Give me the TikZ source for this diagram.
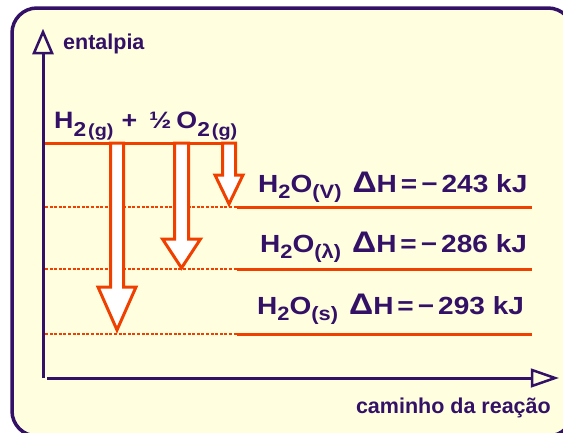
\documentclass[tikz,border=0pt]{standalone}
\usepackage{fontspec}
\setmainfont{Liberation Sans}
\newfontfamily\widefont{Liberation Sans}[FakeStretch=1.13]
\definecolor{pur}{RGB}{51,17,102}
\definecolor{org}{RGB}{240,64,0}
\definecolor{bg}{RGB}{255,255,224}
\newcommand\subA[1]{\raisebox{-0.37em}{\scalebox{0.85}{#1}}}
\newcommand\subG[1]{\raisebox{-0.37em}{\scalebox{0.74}{#1}}}
\newcommand\subB[1]{\raisebox{-0.27em}{\scalebox{0.78}{#1}}}
\newcommand\bigD{\scalebox{1.2}{Δ}}
\newcommand\blockarrow[5]{% cx, half shaft, half head, head base y, tip y
  \filldraw[org, fill=white, line width=3pt, line join=miter]
    (#1-#2,143) -- (#1-#2,#4) -- (#1-#3,#4) -- (#1,#5) -- (#1+#3,#4) -- (#1+#2,#4) -- (#1+#2,143) -- cycle;}
\begin{document}
\begin{tikzpicture}[x=1pt,y=-1pt,
  lbl/.style={text=pur, font=\widefont\bfseries\fontsize{24.8}{29}\selectfont, inner sep=0pt, anchor=base west},
  toplbl/.style={text=pur, font=\widefont\bfseries\fontsize{23.7}{28}\selectfont, inner sep=0pt, anchor=base west},
  axlbl/.style={text=pur, font=\bfseries\fontsize{21.5}{25}\selectfont, inner sep=0pt},
  axis/.style={pur, line width=3pt},
  level/.style={org, line width=3pt},
  guide/.style={org, line width=1.5pt, dash pattern=on 3pt off 1.6pt}]
\useasboundingbox (0,0) rectangle (563,432);
% frame
\draw[pur, line width=3.5pt, fill=bg, rounded corners=25pt] (12,8) rectangle (573,436);
% axes
\coordinate (O) at (43,378);
\coordinate (Ytip) at (43,32);
\coordinate (Xstart) at (47,378);
\coordinate (Xtip) at (555,378);
\draw[axis] (O) -- (43,53);
\draw[pur, line width=2.5pt, fill=bg, line join=miter] (34,53) -- (Ytip) -- (52,53) -- cycle;
\draw[axis] (Xstart) -- (532,378);
\draw[pur, line width=2.5pt, fill=bg, line join=miter] (532,370) -- (Xtip) -- (532,386) -- cycle;
\node[axlbl, anchor=base west] (ent) at (63,49) {entalpia};
\node[axlbl, anchor=base east] (cam) at (551,413) {caminho da reação};
% guide lines
\draw[guide] (45,207) -- (237,207);
\draw[guide] (45,269) -- (237,269);
\draw[guide] (45,334) -- (237,334);
% levels
\draw[level] (45,143) -- (235,143);
\draw[level] (237,207.5) -- (532,207.5);
\draw[level] (237,269) -- (532,269);
\draw[level] (237,334) -- (532,334);
% arrows
\blockarrow{117}{6.5}{19}{287}{330}
\blockarrow{181.5}{7}{19}{239}{268}
\blockarrow{229}{6.5}{14}{175}{204}
% labels
\node[toplbl] (react) at (54,128) {H\subA{2}\hspace{2pt}\subG{(g)}\hspace{8pt}+\hspace{12pt}½\hspace{5pt}O\subA{2}\hspace{2pt}\subG{(g)}};
\node[lbl] (p1) at (258,192) {H\subB{2}O\subB{(V)}\hspace{11pt}\bigD H\hspace{4pt}=\hspace{4pt}−\hspace{4pt}243 kJ};
\node[lbl] (p2) at (260,252) {H\subB{2}O\subB{(λ)}\hspace{11pt}\bigD H\hspace{4pt}=\hspace{4pt}−\hspace{4pt}286 kJ};
\node[lbl] (p3) at (257,314) {H\subB{2}O\subB{(s)}\hspace{11pt}\bigD H\hspace{4pt}=\hspace{4pt}−\hspace{4pt}293 kJ};
\end{tikzpicture}
\end{document}
